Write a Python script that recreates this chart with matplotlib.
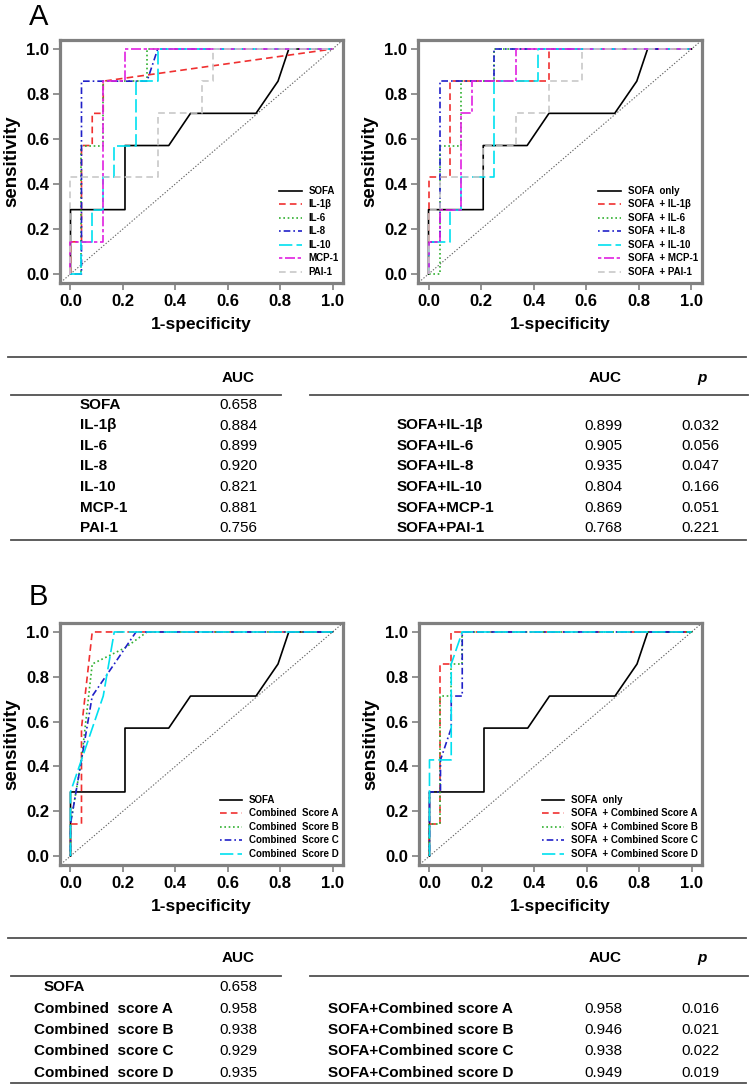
import matplotlib.pyplot as plt

plt.rcParams["font.family"] = ["Liberation Sans", "DejaVu Sans"]

W, H = 750, 1088

# ---- ROC curves, panel A (1-specificity, sensitivity) ----
sofa_x = [0, 0, 0.208, 0.208, 0.375, 0.458, 0.708, 0.792, 0.833, 1]
sofa_y = [0, 0.286, 0.286, 0.571, 0.571, 0.714, 0.714, 0.857, 1, 1]

il1b_x = [0, 0, 0.042, 0.042, 0.083, 0.083, 0.125, 0.125, 1]
il1b_y = [0, 0.143, 0.143, 0.571, 0.571, 0.714, 0.714, 0.857, 1]
il6_x = [0, 0.042, 0.042, 0.125, 0.125, 0.292, 0.292, 1]
il6_y = [0, 0, 0.571, 0.571, 0.857, 0.857, 1, 1]
il8_x = [0, 0.042, 0.042, 0.292, 0.333, 1]
il8_y = [0, 0, 0.857, 0.857, 1, 1]
il10_x = [0, 0.042, 0.042, 0.083, 0.083, 0.125, 0.125, 0.167, 0.167, 0.25, 0.25, 0.333, 0.333, 1]
il10_y = [0, 0, 0.143, 0.143, 0.286, 0.286, 0.429, 0.429, 0.571, 0.571, 0.857, 0.857, 1, 1]
mcp1_x = [0, 0, 0.125, 0.125, 0.208, 0.208, 1]
mcp1_y = [0, 0.143, 0.143, 0.857, 0.857, 1, 1]
pai1_x = [0, 0, 0.333, 0.333, 0.5, 0.5, 0.542, 0.542, 1]
pai1_y = [0, 0.429, 0.429, 0.714, 0.714, 0.857, 0.857, 1, 1]

s_il1b_x = [0, 0, 0.083, 0.083, 0.458, 0.458, 1]
s_il1b_y = [0, 0.429, 0.429, 0.857, 0.857, 1, 1]
s_il6_x = [0, 0.042, 0.042, 0.125, 0.125, 0.25, 0.25, 1]
s_il6_y = [0, 0, 0.571, 0.571, 0.857, 0.857, 1, 1]
s_il8_x = [0, 0, 0.042, 0.042, 0.25, 0.25, 1]
s_il8_y = [0, 0.143, 0.143, 0.857, 0.857, 1, 1]
s_il10_x = [0, 0, 0.083, 0.083, 0.125, 0.125, 0.25, 0.25, 0.417, 0.417, 1]
s_il10_y = [0, 0.143, 0.143, 0.286, 0.286, 0.429, 0.429, 0.857, 0.857, 1, 1]
s_mcp1_x = [0, 0, 0.042, 0.042, 0.125, 0.125, 0.167, 0.167, 0.333, 0.333, 1]
s_mcp1_y = [0, 0.143, 0.143, 0.286, 0.286, 0.714, 0.714, 0.857, 0.857, 1, 1]
s_pai1_x = [0, 0, 0.042, 0.042, 0.208, 0.208, 0.333, 0.333, 0.458, 0.458, 0.583, 0.583, 1]
s_pai1_y = [0, 0.286, 0.286, 0.429, 0.429, 0.571, 0.571, 0.714, 0.714, 0.857, 0.857, 1, 1]

# ---- ROC curves, panel B ----
comb_a_x = [0, 0, 0.042, 0.042, 0.083, 1]
comb_a_y = [0, 0.143, 0.143, 0.571, 1, 1]
comb_b_x = [0, 0, 0.042, 0.083, 0.208, 0.292, 1]
comb_b_y = [0, 0.143, 0.429, 0.857, 0.929, 1, 1]
comb_c_x = [0, 0, 0.021, 0.042, 0.083, 0.167, 0.25, 1]
comb_c_y = [0, 0.143, 0.286, 0.429, 0.714, 0.857, 1, 1]
comb_d_x = [0, 0, 0.042, 0.125, 0.167, 1]
comb_d_y = [0, 0.286, 0.429, 0.714, 1, 1]

s_comb_a_x = [0, 0, 0.042, 0.042, 0.083, 0.083, 1]
s_comb_a_y = [0, 0.143, 0.143, 0.857, 0.857, 1, 1]
s_comb_b_x = [0, 0, 0.042, 0.042, 0.083, 0.083, 0.125, 0.125, 1]
s_comb_b_y = [0, 0.143, 0.143, 0.714, 0.714, 0.857, 0.857, 1, 1]
s_comb_c_x = [0, 0, 0.042, 0.042, 0.083, 0.083, 0.125, 0.125, 1]
s_comb_c_y = [0, 0.286, 0.286, 0.429, 0.571, 0.714, 0.714, 1, 1]
s_comb_d_x = [0, 0, 0.083, 0.083, 0.125, 1]
s_comb_d_y = [0, 0.429, 0.429, 0.857, 1, 1]

# ---- legend labels ----
legend_a_left = ["SOFA", "IL-1β", "IL-6", "IL-8", "IL-10", "MCP-1", "PAI-1"]
legend_a_right = ["SOFA  only", "SOFA  + IL-1β", "SOFA  + IL-6", "SOFA  + IL-8",
                  "SOFA  + IL-10", "SOFA  + MCP-1", "SOFA  + PAI-1"]
legend_b_left = ["SOFA", "Combined  Score A", "Combined  Score B",
                 "Combined  Score C", "Combined  Score D"]
legend_b_right = ["SOFA  only", "SOFA  + Combined Score A", "SOFA  + Combined Score B",
                  "SOFA  + Combined Score C", "SOFA  + Combined Score D"]

# ---- tables ----
tab_a_names = ["SOFA", "IL-1β", "IL-6", "IL-8", "IL-10", "MCP-1", "PAI-1"]
tab_a_auc = ["0.658", "0.884", "0.899", "0.920", "0.821", "0.881", "0.756"]
tab_a_comb_names = ["SOFA+IL-1β", "SOFA+IL-6", "SOFA+IL-8", "SOFA+IL-10",
                    "SOFA+MCP-1", "SOFA+PAI-1"]
tab_a_comb_auc = ["0.899", "0.905", "0.935", "0.804", "0.869", "0.768"]
tab_a_comb_p = ["0.032", "0.056", "0.047", "0.166", "0.051", "0.221"]

tab_b_names = ["SOFA", "Combined  score A", "Combined  score B",
               "Combined  score C", "Combined  score D"]
tab_b_auc = ["0.658", "0.958", "0.938", "0.929", "0.935"]
tab_b_comb_names = ["SOFA+Combined score A", "SOFA+Combined score B",
                    "SOFA+Combined score C", "SOFA+Combined score D"]
tab_b_comb_auc = ["0.958", "0.946", "0.938", "0.949"]
tab_b_comb_p = ["0.016", "0.021", "0.022", "0.019"]

STYLES = [
    ("black", "-"),
    ("#f03030", (0, (4, 2.5))),
    ("#30b030", (0, (1, 1.6))),
    ("#2020c8", (0, (1, 1.8, 4, 1.8))),
    ("#00e0f0", (0, (8, 2.5))),
    ("#e020e0", (0, (2, 1.6, 6, 1.6))),
    ("#c8c8c8", (0, (4, 2.5))),
]
FRAME = "#808080"

fig = plt.figure(figsize=(W / 100, H / 100), dpi=100)
ov = fig.add_axes([0, 0, 1, 1])
ov.set_xlim(0, W)
ov.set_ylim(H, 0)
ov.axis("off")


def roc_axes(left, top, right, bottom):
    return fig.add_axes([left / W, 1 - bottom / H, (right - left) / W, (bottom - top) / H])


def roc_panel(ax, curves, labels, legend_anchor):
    ax.plot([-0.1, 1.1], [-0.1, 1.1], color="#666666", ls=(0, (1.2, 1.6)), lw=0.8)
    for (x, y), lab, (c, ls) in zip(curves, labels, STYLES):
        ax.plot(x, y, color=c, ls=ls, lw=1.2, label=lab)
    ax.set_xlim(-0.04, 1.04)
    ax.set_ylim(-0.04, 1.04)
    ticks = [0, 0.2, 0.4, 0.6, 0.8, 1.0]
    ax.set_xticks(ticks)
    ax.set_yticks(ticks)
    ax.set_xticklabels([f"{t:.1f}" for t in ticks], fontsize=12, fontweight="bold")
    ax.set_yticklabels([f"{t:.1f}" for t in ticks], fontsize=12, fontweight="bold")
    ax.tick_params(color=FRAME, length=5, width=1.2, pad=3)
    for sp in ax.spines.values():
        sp.set_color(FRAME)
        sp.set_linewidth(2.3)
    ax.set_xlabel("1-specificity", fontsize=12.5, fontweight="bold")
    ax.set_ylabel("sensitivity", fontsize=13.5, fontweight="bold")
    ax.xaxis.set_label_coords(0.5, -0.17)
    ax.xaxis.label.set_va("center")
    ax.yaxis.set_label_coords(-0.17, 0.5)
    ax.yaxis.label.set_va("center")
    ax.legend(loc="lower right", bbox_to_anchor=legend_anchor, frameon=False,
              prop={"size": 7, "weight": "bold"}, handlelength=2.3,
              handletextpad=0.7, labelspacing=0.36, borderpad=0, borderaxespad=0)


a_left = roc_axes(60, 40, 343, 283)
roc_panel(a_left,
          [(sofa_x, sofa_y), (il1b_x, il1b_y), (il6_x, il6_y), (il8_x, il8_y),
           (il10_x, il10_y), (mcp1_x, mcp1_y), (pai1_x, pai1_y)],
          legend_a_left, (0.985, 0.025))
a_right = roc_axes(418, 40, 702, 283)
roc_panel(a_right,
          [(sofa_x, sofa_y), (s_il1b_x, s_il1b_y), (s_il6_x, s_il6_y), (s_il8_x, s_il8_y),
           (s_il10_x, s_il10_y), (s_mcp1_x, s_mcp1_y), (s_pai1_x, s_pai1_y)],
          legend_a_right, (0.985, 0.025))
b_left = roc_axes(60, 623, 343, 865)
roc_panel(b_left,
          [(sofa_x, sofa_y), (comb_a_x, comb_a_y), (comb_b_x, comb_b_y),
           (comb_c_x, comb_c_y), (comb_d_x, comb_d_y)],
          legend_b_left, (0.985, 0.025))
b_right = roc_axes(419, 623, 702, 865)
roc_panel(b_right,
          [(sofa_x, sofa_y), (s_comb_a_x, s_comb_a_y), (s_comb_b_x, s_comb_b_y),
           (s_comb_c_x, s_comb_c_y), (s_comb_d_x, s_comb_d_y)],
          legend_b_right, (0.985, 0.025))

# panel letters
ov.text(39, 17, "A", fontsize=21, ha="center", va="center")
ov.text(38, 597, "B", fontsize=21, ha="center", va="center")

RULE = dict(color="#505050", lw=1.3)
TXT = dict(fontsize=11, va="center")


def table(top, head_y, head_line, row_y, bottom, names, auc, comb_names, comb_auc, comb_p,
          name_x, comb_name_x, first_name_x=None):
    ov.plot([8, 746], [top, top], **RULE)
    ov.plot([11, 281], [head_line, head_line], **RULE)
    ov.plot([310, 748], [head_line, head_line], **RULE)
    ov.plot([11, 746], [bottom, bottom], **RULE)
    ov.text(238, head_y, "AUC", ha="center", fontweight="bold", **TXT)
    ov.text(605, head_y, "AUC", ha="center", fontweight="bold", **TXT)
    ov.text(702, head_y, "p", ha="center", fontweight="bold", style="italic", **TXT)
    for i, (n, v) in enumerate(zip(names, auc)):
        x = first_name_x if (i == 0 and first_name_x is not None) else name_x
        ov.text(x, row_y[i], n, ha="left", fontweight="bold", **TXT)
        ov.text(238, row_y[i], v, ha="center", **TXT)
    for i, (n, v, p) in enumerate(zip(comb_names, comb_auc, comb_p)):
        y = row_y[i + 1]
        ov.text(comb_name_x, y, n, ha="left", fontweight="bold", **TXT)
        ov.text(603, y, v, ha="center", **TXT)
        ov.text(700, y, p, ha="center", **TXT)


table(357, 378, 395, [405, 425.5, 446, 466.5, 487, 507.5, 528], 540,
      tab_a_names, tab_a_auc, tab_a_comb_names, tab_a_comb_auc, tab_a_comb_p,
      80, 397)
table(938, 958, 976, [987, 1009, 1030, 1051, 1073], 1083,
      tab_b_names, tab_b_auc, tab_b_comb_names, tab_b_comb_auc, tab_b_comb_p,
      34, 328, first_name_x=44)

fig.savefig("out.png", dpi=100)
